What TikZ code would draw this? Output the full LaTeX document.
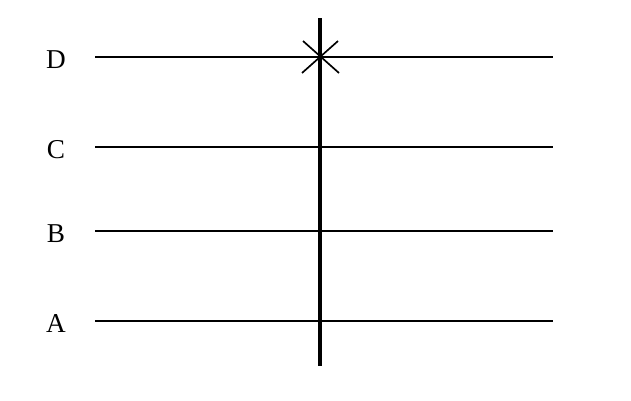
\documentclass[tikz,border=0pt]{standalone}
\usepackage{fontspec}
\setmainfont{Liberation Serif}
\begin{document}
\begin{tikzpicture}[x=0.02cm, y=-0.02cm,
    level/.style={line width=0.95pt},
    axis/.style={line width=2pt},
    lab/.style={font=\fontsize{15.5}{17}\selectfont, inner sep=0pt}]
  \useasboundingbox (0,0) rectangle (631,400);
  \foreach \name/\y in {D/57, C/147, B/231, A/321} {
    \node[lab] (lab\name) at (56,\y+2.5) {\name};
    \coordinate (w\name) at (95,\y);
    \coordinate (e\name) at (553,\y);
    \draw[level] (w\name) -- (e\name);
  }
  \coordinate (top) at (320,18);
  \coordinate (bot) at (320,366);
  \draw[axis] (top) -- (bot);
  % cross on D
  \draw[level] (302,73) -- (338,41);
  \draw[level] (303,41) -- (339,73);
\end{tikzpicture}
\end{document}
